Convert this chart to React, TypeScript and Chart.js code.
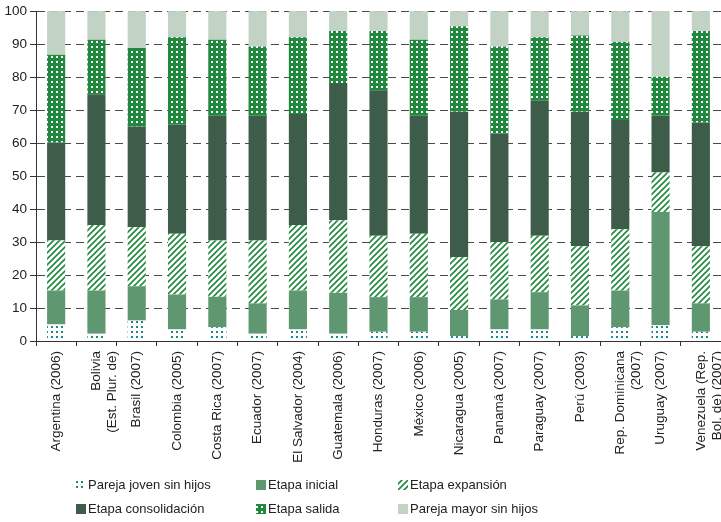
import React, { useEffect, useRef } from 'react';
import { Chart, registerables } from 'chart.js';
Chart.register(...registerables);

const categories: (string | string[])[] = [
  'Argentina (2006)',
  ['Bolivia', '(Est. Plur. de)'],
  'Brasil (2007)',
  'Colombia (2005)',
  'Costa Rica (2007)',
  'Ecuador (2007)',
  'El Salvador (2004)',
  'Guatemala (2006)',
  'Honduras (2007)',
  'México (2006)',
  'Nicaragua (2005)',
  'Panamá (2007)',
  'Paraguay (2007)',
  'Perú (2003)',
  ['Rep. Dominicana', '(2007)'],
  'Uruguay (2007)',
  ['Venezuela (Rep.', 'Bol. de) (2007)'],
];

const seriesNames = [
  'Pareja joven sin hijos',
  'Etapa inicial',
  'Etapa expansión',
  'Etapa consolidación',
  'Etapa salida',
  'Pareja mayor sin hijos',
];

const parejaJoven = [5, 2.2, 6.2, 3.5, 4.2, 2.2, 3.5, 2.2, 2.8, 2.8, 1.5, 3.5, 3.5, 1.5, 4.2, 4.8, 2.8];
const etapaInicial = [10.3, 13.1, 10.4, 10.6, 9.2, 9.2, 11.8, 12.4, 10.5, 10.5, 7.9, 9.1, 11.3, 9.3, 11.1, 34.3, 8.6];
const etapaExpansion = [15.2, 19.9, 17.9, 18.4, 17.1, 19.1, 19.9, 22.0, 18.6, 19.2, 16.0, 17.4, 17.1, 17.9, 18.6, 12.0, 17.3];
const etapaConsolidacion = [29.7, 39.6, 30.5, 33.1, 37.8, 37.8, 33.6, 41.6, 44.1, 35.8, 44.1, 32.9, 40.9, 40.8, 33.1, 17.2, 37.5];
const etapaSalida = [26.6, 16.5, 23.8, 26.5, 23.0, 21.0, 23.3, 15.8, 18.0, 23.0, 25.9, 26.4, 19.3, 23.1, 23.6, 11.8, 27.8];
const parejaMayor = [13.2, 8.7, 11.2, 7.9, 8.7, 10.7, 7.9, 6.0, 6.0, 8.7, 4.6, 10.7, 7.9, 7.4, 9.4, 19.9, 6.0];

const yTicks = [0, 10, 20, 30, 40, 50, 60, 70, 80, 90, 100];

const FONT = '"Liberation Sans", Arial, sans-serif';

function makeTile(size: number, draw: (c: CanvasRenderingContext2D) => void): CanvasPattern | string {
  const cv = document.createElement('canvas');
  cv.width = size;
  cv.height = size;
  const c = cv.getContext('2d')!;
  draw(c);
  return c.createPattern(cv, 'repeat') || '#888';
}

export default function App() {
  const ref = useRef<HTMLCanvasElement | null>(null);

  useEffect(() => {
    document.body.style.margin = '0';
    const teal = '#1b8787';
    const green = '#20893d';
    const dotsTeal = makeTile(5, (c) => {
      c.fillStyle = '#ffffff';
      c.fillRect(0, 0, 5, 5);
      c.fillStyle = teal;
      c.fillRect(1, 1, 2, 2);
    });
    const dotsWhite = makeTile(5, (c) => {
      c.fillStyle = green;
      c.fillRect(0, 0, 5, 5);
      c.fillStyle = '#ffffff';
      c.fillRect(1, 1, 2, 2);
    });
    const hatch = makeTile(6, (c) => {
      c.fillStyle = '#ffffff';
      c.fillRect(0, 0, 6, 6);
      c.strokeStyle = green;
      c.lineWidth = 1.6;
      c.beginPath();
      c.moveTo(-1, 7);
      c.lineTo(7, -1);
      c.moveTo(-1, 1);
      c.lineTo(1, -1);
      c.moveTo(5, 7);
      c.lineTo(7, 5);
      c.stroke();
    });

    const fills = [dotsTeal, '#5f9870', hatch, '#3d5c4a', dotsWhite, '#c2d3c5'];
    const values = [parejaJoven, etapaInicial, etapaExpansion, etapaConsolidacion, etapaSalida, parejaMayor];

    const colX = [76, 256, 398];
    const rowY = [485, 509];

    const legendPlugin = {
      id: 'customLegend',
      afterDraw(chart: any) {
        const ctx = chart.ctx as CanvasRenderingContext2D;
        ctx.save();
        ctx.font = '13px ' + FONT;
        ctx.textBaseline = 'middle';
        chart.data.datasets.forEach((ds: any, i: number) => {
          const x = colX[i % 3];
          const y = rowY[Math.floor(i / 3)];
          ctx.fillStyle = ds.backgroundColor;
          ctx.fillRect(x, y - 5, 10, 10);
          ctx.fillStyle = '#222222';
          ctx.fillText(ds.label, x + 12, y);
        });
        ctx.restore();
      },
    };

    const chart = new Chart(ref.current!, {
      type: 'bar',
      data: {
        labels: categories as any,
        datasets: seriesNames.map((name, i) => ({
          label: name,
          data: values[i],
          backgroundColor: fills[i] as any,
          borderWidth: 0,
          barPercentage: 0.45,
          categoryPercentage: 1,
        })),
      },
      options: {
        responsive: false,
        animation: false,
        devicePixelRatio: 1,
        layout: { padding: { top: 4, right: 0, bottom: 57, left: 0 } },
        plugins: {
          legend: { display: false },
          tooltip: { enabled: false },
        },
        scales: {
          x: {
            stacked: true,
            grid: { offset: true, drawOnChartArea: false, color: '#333333', tickLength: 5 },
            border: { color: '#333333', width: 1 },
            ticks: {
              autoSkip: false,
              minRotation: 90,
              maxRotation: 90,
              padding: 5,
              color: '#222222',
              font: { family: FONT, size: 13.5 },
            },
            afterFit: (s: any) => {
              s.height = 124;
              s.paddingLeft = 0;
              s.paddingRight = 0;
            },
          },
          y: {
            stacked: true,
            min: 0,
            max: 100,
            afterBuildTicks: (s: any) => {
              s.ticks = yTicks.map((v) => ({ value: v }));
            },
            grid: { color: '#4a4a4a', lineWidth: 1, tickLength: 6, tickColor: '#333333', tickBorderDash: [] },
            border: { color: '#333333', width: 1, dash: [8, 5] },
            ticks: {
              padding: 3,
              color: '#222222',
              font: { family: FONT, size: 13.5 },
            },
            afterFit: (s: any) => {
              s.width = 36;
            },
          },
        },
      },
      plugins: [legendPlugin],
    });
    return () => chart.destroy();
  }, []);

  return (
    <div style={{ width: 721, height: 522 }}>
      <canvas ref={ref} width={721} height={522} style={{ display: 'block' }} />
    </div>
  );
}
